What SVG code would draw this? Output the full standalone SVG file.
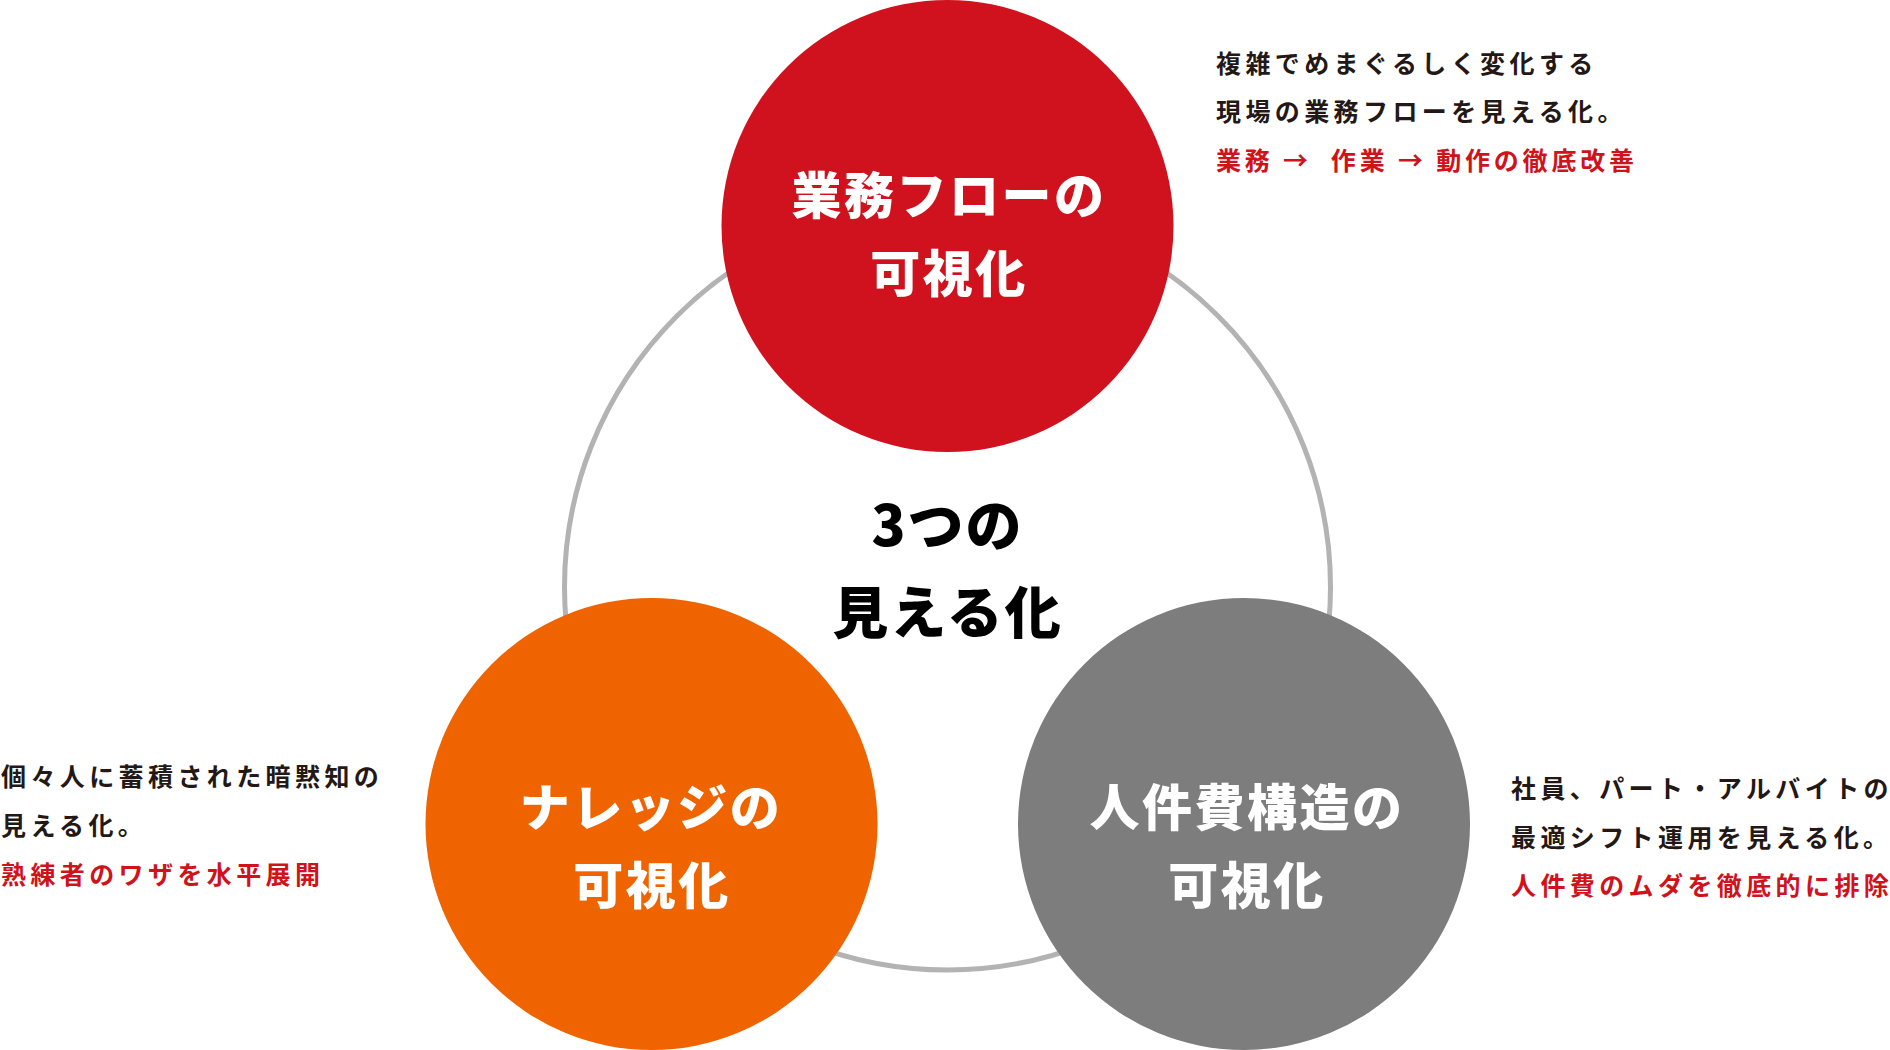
<svg xmlns="http://www.w3.org/2000/svg" width="1890" height="1050" viewBox="0 0 1890 1050">
<style>
.ttl{font-family:"Noto Sans CJK JP","Noto Sans",sans-serif;font-weight:900;font-size:50px;fill:#ffffff;text-anchor:middle;letter-spacing:2.5px}
.ctr{font-family:"Noto Sans CJK JP","Noto Sans",sans-serif;font-weight:900;font-size:56px;fill:#000000;text-anchor:middle;letter-spacing:2px}
.desc{font-family:"Noto Sans CJK JP","Noto Sans",sans-serif;font-weight:700;font-size:25px;fill:#231815;letter-spacing:4.4px}
.red{fill:#d0121b}
</style>
<rect width="1890" height="1050" fill="#ffffff"/>
<g id="connectors">
<circle cx="947.5" cy="587" r="383" fill="none" stroke="#b3b3b3" stroke-width="5"/>
</g>
<g id="center">
<text class="ctr" x="947.5" y="546">3つの</text>
<text class="ctr" x="947.5" y="633">見える化</text>
</g>
<g id="node-workflow">
<circle cx="947.5" cy="226" r="226" fill="#cf121d"/>
<text class="ttl" x="949" y="214">業務フローの</text>
<text class="ttl" x="949" y="292">可視化</text>
</g>
<g id="node-knowledge">
<circle cx="651.5" cy="824" r="226" fill="#f06400"/>
<text class="ttl" x="651" y="826">ナレッジの</text>
<text class="ttl" x="652" y="904">可視化</text>
</g>
<g id="node-labor">
<circle cx="1244" cy="824" r="226" fill="#7d7d7d"/>
<text class="ttl" x="1247" y="826">人件費構造の</text>
<text class="ttl" x="1247" y="904">可視化</text>
</g>
<g id="desc-workflow">
<text class="desc" x="1216" y="73">複雑でめまぐるしく変化する</text>
<text class="desc" x="1216" y="121">現場の業務フローを見える化。</text>
<text class="desc red" x="1216" y="170" style="letter-spacing:3.8px" xml:space="preserve">業務 →  作業 → 動作の徹底改善</text>
</g>
<g id="desc-knowledge">
<text class="desc" x="1" y="786">個々人に蓄積された暗黙知の</text>
<text class="desc" x="1" y="835">見える化。</text>
<text class="desc red" x="1" y="884">熟練者のワザを水平展開</text>
</g>
<g id="desc-labor">
<text class="desc" x="1511" y="798">社員、パート・アルバイトの</text>
<text class="desc" x="1511" y="847">最適シフト運用を見える化。</text>
<text class="desc red" x="1511" y="895">人件費のムダを徹底的に排除</text>
</g>
</svg>
